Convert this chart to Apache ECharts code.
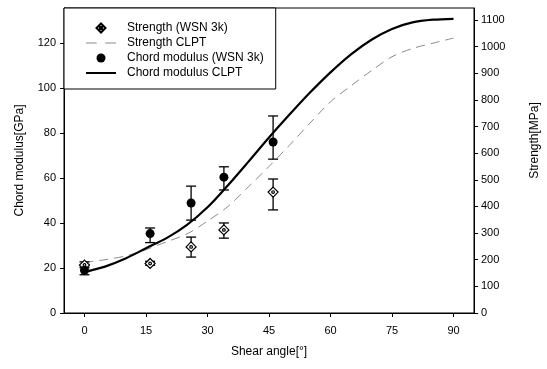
<!DOCTYPE html>
<html><head><meta charset="utf-8">
<script src="https://cdn.jsdelivr.net/npm/echarts@6/dist/echarts.min.js"></script>
<style>html,body{margin:0;padding:0;background:#fff}#c{width:547px;height:369px}</style>
</head><body><div id="c"></div>
<script>
// measured data
const modAngles = [0, 16, 26, 34, 46];
const modValues = [19, 35.3, 48.9, 60.4, 76];
const modLow = [17, 31.3, 41.3, 54.7, 68.4];
const modHigh = [21, 37.8, 56.4, 65, 87.6];

const strAngles = [0, 16, 26, 34, 46];
const strValues = [180, 186, 248, 312, 454];
const strLow = [170, 179, 210, 281, 387];
const strHigh = [192, 194, 285, 338, 503];

const clptAngles = [0,5,10,15,20,25,30,35,40,45,50,55,60,65,70,75,80,85,90];
const modClpt = [18.2,20.6,24.2,28.8,33.3,39.2,47,56.8,67.3,78,88.2,98,107,115,121.5,126.3,129.2,130.4,130.8];
const strClpt = [190,200,214,238,267,297,345,400,474,550,630,713,793,853,910,962,993,1013,1032];

const xTicks = [0,15,30,45,60,75,90];

const FONT = 'Liberation Sans, Arial, sans-serif';
const chart = echarts.init(document.getElementById('c'), null, {renderer:'canvas'});

function zip(a,b){return a.map((v,i)=>[v,b[i]]);}
function errData(x, lo, hi){return x.map((v,i)=>[v, lo[i], hi[i]]);}

function errRender(params, api){
  const x = api.value(0), lo = api.value(1), hi = api.value(2);
  const pLo = api.coord([x, lo]), pHi = api.coord([x, hi]);
  const w = 5;
  const st = {stroke:'#000', lineWidth:1.3};
  return {type:'group', children:[
    {type:'line', shape:{x1:pLo[0],y1:pLo[1],x2:pHi[0],y2:pHi[1]}, style:st},
    {type:'line', shape:{x1:pLo[0]-w,y1:pLo[1],x2:pLo[0]+w,y2:pLo[1]}, style:st},
    {type:'line', shape:{x1:pHi[0]-w,y1:pHi[1],x2:pHi[0]+w,y2:pHi[1]}, style:st}
  ]};
}

const diamondPath = 'path://M0,-6L6,0L0,6L-6,0Z M0,-1.6A1.6,1.6 0 1 1 0,1.6A1.6,1.6 0 1 1 0,-1.6Z';
const solidIcon = 'path://M0,0H30V2H0Z';
const dashIcon = 'path://M0,0H10V1H0Z M18,0H28V1H18Z';

chart.setOption({
  animation:false,
  textStyle:{fontFamily:FONT},
  grid:{left:64, right:73, top:8, bottom:56, show:true, borderColor:'#000', borderWidth:1,
        containLabel:false, outerBoundsMode:'none'},
  legend:{
    orient:'vertical', left:64, top:8,
    padding:[14,12,10,22], itemGap:3, itemWidth:30, itemHeight:9,
    borderColor:'#000', borderWidth:1, backgroundColor:'#fff',
    textStyle:{fontFamily:FONT, fontSize:12, lineHeight:12, color:'#000', padding:[0,0,0,6]},
    data:[
      {name:'Strength (WSN 3k)'},
      {name:'Strength CLPT', icon:dashIcon},
      {name:'Chord modulus (WSN 3k)'},
      {name:'Chord modulus CLPT', icon:solidIcon}
    ]
  },
  xAxis:{
    type:'value', min:-5, max:95,
    name:'Shear angle[°]', nameLocation:'middle', nameGap:33,
    nameTextStyle:{fontSize:12, color:'#000', fontFamily:FONT},
    axisLine:{onZero:false, lineStyle:{color:'#000'}},
    axisTick:{customValues:xTicks, length:4, lineStyle:{color:'#000'}},
    axisLabel:{customValues:xTicks, fontSize:11, color:'#000', margin:12},
    splitLine:{show:false}
  },
  yAxis:[{
    type:'value', min:0, max:135.6, interval:20, position:'left',
    name:'Chord modulus[GPa]', nameLocation:'middle', nameGap:38,
    nameTextStyle:{fontSize:12, color:'#000', fontFamily:FONT},
    axisLine:{show:true, onZero:false, lineStyle:{color:'#000'}},
    axisTick:{show:true, length:4, lineStyle:{color:'#000'}},
    axisLabel:{fontSize:11, color:'#000', margin:8, showMaxLabel:false},
    splitLine:{show:false}
  },{
    type:'value', min:0, max:1145, interval:100, position:'right',
    name:'Strength[MPa]', nameLocation:'middle', nameGap:55,
    nameTextStyle:{fontSize:12, color:'#000', fontFamily:FONT, padding:[0,0,0,40]},
    axisLine:{show:true, onZero:false, lineStyle:{color:'#000'}},
    axisTick:{show:true, length:4, lineStyle:{color:'#000'}},
    axisLabel:{fontSize:11, color:'#000', margin:7, showMaxLabel:false, formatter:(v)=>String(v)},
    splitLine:{show:false}
  }],
  series:[
    {
      name:'Strength CLPT', type:'line', yAxisIndex:1, smooth:0.3, symbol:'none', showSymbol:false,
      data:zip(clptAngles, strClpt),
      lineStyle:{color:'#8a8a8a', width:1, type:[9,6]}, itemStyle:{color:'#8a8a8a'}, z:2
    },
    {
      name:'Chord modulus CLPT', type:'line', yAxisIndex:0, smooth:0.3, symbol:'none', showSymbol:false,
      data:zip(clptAngles, modClpt),
      lineStyle:{color:'#000', width:2.2}, itemStyle:{color:'#000'}, z:3
    },
    {
      type:'custom', yAxisIndex:1, renderItem:errRender, data:errData(strAngles, strLow, strHigh), z:4, silent:true
    },
    {
      type:'custom', yAxisIndex:0, renderItem:errRender, data:errData(modAngles, modLow, modHigh), z:4, silent:true
    },
    {
      name:'Strength (WSN 3k)', type:'scatter', yAxisIndex:1, symbol:diamondPath, symbolSize:10,
      data:zip(strAngles, strValues),
      itemStyle:{color:'#fff', borderColor:'#000', borderWidth:1.2, opacity:1}, z:5
    },
    {
      name:'Chord modulus (WSN 3k)', type:'scatter', yAxisIndex:0, symbol:'circle', symbolSize:9,
      data:zip(modAngles, modValues),
      itemStyle:{color:'#000', opacity:1}, z:5
    }
  ]
});
</script></body></html>
